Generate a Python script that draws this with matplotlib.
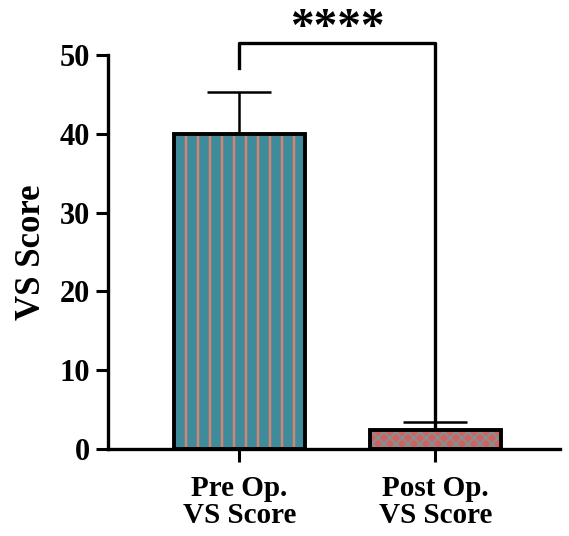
import matplotlib
matplotlib.use("Agg")
import matplotlib.pyplot as plt

categories = ["Pre Op.\nVS Score", "Post Op.\nVS Score"]
means = [40.0, 2.4]
errors = [5.3, 1.0]
sig_label = "****"

# rendered at 72 dpi so the hatch spacing matches; S keeps sizes as at 100 dpi
DPI = 72
S = 100 / DPI

plt.rcParams["font.family"] = ["Liberation Serif", "DejaVu Serif"]
plt.rcParams["font.weight"] = "bold"
plt.rcParams["hatch.linewidth"] = 2.4

fig = plt.figure(figsize=(569 / DPI, 536 / DPI), dpi=DPI)
ax = fig.add_axes([0.19, 0.1623, 0.794, 0.7351])

x = list(range(len(categories)))
fills = ["#3e8b9b", "#d26262"]
hatch_cols = ["#d8846f", "#8c8c8c"]
hatches = ["|", "xx"]

for i in x:
    ax.bar(x[i], means[i], width=0.67, color=fills[i], edgecolor=hatch_cols[i],
           hatch=hatches[i], linewidth=0, zorder=2)
    ax.bar(x[i], means[i], width=0.67, fill=False, edgecolor="black",
           linewidth=2.8 * S, zorder=3)
    ax.errorbar(x[i], means[i], yerr=[[0], [errors[i]]], fmt="none",
                ecolor="black", elinewidth=1.8 * S, capsize=23 * S,
                capthick=1.8 * S, zorder=1)

ax.set_xlim(-0.67, 1.635)
ax.set_ylim(0, 50)
ax.set_yticks([0, 10, 20, 30, 40, 50])
ax.set_xticks(x)
ax.set_xticklabels(categories, fontsize=21 * S, fontweight="bold", linespacing=1.0)
ax.tick_params(axis="y", labelsize=22 * S, width=2.2 * S, length=9 * S, pad=4 * S)
ax.tick_params(axis="x", width=2.2 * S, length=9 * S, pad=10 * S)
for lab in ax.get_yticklabels():
    lab.set_fontweight("bold")
ax.set_ylabel("VS Score", fontsize=25 * S, fontweight="bold", labelpad=8 * S)

for side in ["top", "right"]:
    ax.spines[side].set_visible(False)
for side in ["left", "bottom"]:
    ax.spines[side].set_linewidth(2.4 * S)

# significance bracket
y_top = 51.5
ax.plot([x[0], x[0], x[1], x[1]], [48.3, y_top, y_top, means[1] + 0.4],
        color="black", linewidth=2.4 * S, clip_on=False, zorder=4)
ax.text((x[0] + x[1]) / 2, 53.3, sig_label, ha="center", va="center",
        fontsize=34 * S, fontweight="bold", clip_on=False)

fig.savefig("out.png", dpi=DPI)
